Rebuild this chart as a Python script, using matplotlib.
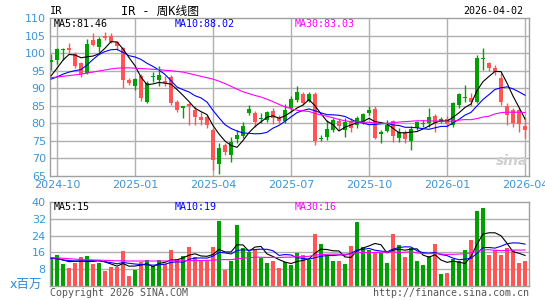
import matplotlib

matplotlib.use('Agg')

import matplotlib.pyplot as plt
import numpy as np
import pandas as pd

# weekly bars, IR
weeks = pd.date_range('2024-09-27', periods=80, freq='7D')

open_ = [97.6, 97.9, 100.9, 101.4, 99.8, 97.1, 94.3, 103.8, 101.8, 104.9,
         104.8, 103.2, 101.4, 92.3, 90.7, 93.6, 86.0, 93.1, 92.2, 92.0,
         93.3, 86.0, 84.5, 85.5, 83.8, 81.9, 81.9, 78.1, 68.3, 73.8,
         71.0, 75.5, 76.5, 82.9, 82.9, 81.3, 81.0, 83.6, 81.4, 80.7,
         84.3, 86.7, 88.4, 86.4, 88.4, 75.4, 76.2, 78.1, 80.7, 78.1,
         80.7, 79.5, 80.5, 82.9, 84.1, 77.1, 77.8, 80.7, 75.9, 77.6,
         75.0, 78.8, 79.8, 80.0, 82.2, 80.5, 81.3, 79.5, 85.2, 87.2,
         87.3, 86.0, 98.3, 97.1, 95.7, 93.0, 84.8, 83.8, 83.8, 79.3]
high = [99.8, 101.4, 101.4, 102.8, 100.4, 97.6, 104.0, 105.7, 104.6, 105.9,
        105.7, 103.5, 101.8, 92.8, 93.0, 94.0, 92.1, 94.7, 96.2, 93.5,
        93.8, 86.7, 85.0, 85.8, 85.0, 83.3, 82.4, 78.6, 74.3, 74.3,
        76.1, 78.0, 80.3, 85.2, 83.4, 82.9, 83.6, 84.3, 82.5, 85.4,
        87.7, 90.5, 88.9, 88.9, 88.9, 76.7, 81.0, 81.4, 81.4, 81.4,
        81.4, 82.2, 82.9, 84.8, 84.8, 78.1, 81.0, 81.0, 78.6, 78.1,
        79.3, 80.7, 81.0, 84.3, 82.6, 81.9, 82.0, 86.0, 88.6, 90.9,
        88.6, 99.5, 101.4, 97.6, 96.5, 94.2, 85.7, 84.3, 84.5, 81.5]
low = [95.2, 96.8, 98.1, 100.1, 95.9, 93.2, 94.0, 101.9, 100.4, 103.8,
       103.0, 101.0, 90.2, 90.9, 89.5, 86.4, 85.7, 91.9, 90.5, 90.5,
       85.2, 83.2, 81.4, 79.6, 79.6, 79.6, 78.8, 66.7, 65.5, 71.0,
       68.9, 74.4, 75.7, 82.4, 79.0, 80.0, 80.3, 79.8, 80.1, 80.1,
       83.3, 86.0, 85.2, 86.0, 73.7, 75.0, 75.2, 77.6, 78.1, 76.2,
       77.6, 78.6, 79.9, 82.4, 75.5, 74.3, 77.4, 74.8, 74.8, 74.3,
       72.5, 78.1, 79.0, 79.0, 77.6, 80.0, 79.0, 79.0, 84.3, 86.2,
       84.8, 85.7, 95.2, 94.8, 93.8, 85.2, 79.5, 79.0, 77.6, 75.8]
close = [98.0, 101.2, 101.2, 100.8, 96.2, 94.0, 102.5, 102.3, 104.0, 104.2,
         103.3, 102.1, 92.4, 91.6, 92.6, 87.1, 91.4, 93.4, 93.8, 91.5,
         85.7, 83.8, 85.0, 85.0, 81.9, 81.0, 79.5, 69.5, 72.9, 71.9,
         74.8, 76.7, 79.3, 84.1, 80.5, 81.5, 83.2, 81.4, 80.7, 83.8,
         87.0, 88.9, 85.7, 88.4, 75.0, 75.6, 78.3, 80.9, 79.3, 80.5,
         78.6, 81.6, 82.6, 83.8, 75.8, 77.3, 79.5, 76.5, 77.6, 75.5,
         78.4, 80.3, 80.2, 81.9, 80.0, 81.3, 79.7, 85.7, 88.3, 87.6,
         86.2, 98.7, 98.6, 95.7, 94.7, 86.0, 82.4, 80.0, 79.7, 78.1]
# volume, millions
volume = [14.0, 14.8, 10.5, 8.4, 11.1, 14.0, 14.3, 10.5, 11.1, 7.3,
          9.2, 9.2, 16.7, 4.8, 7.6, 11.6, 12.4, 9.5, 12.4, 10.5,
          17.1, 12.7, 14.3, 18.6, 14.0, 11.9, 11.9, 18.6, 31.0, 7.6,
          11.9, 29.0, 18.3, 16.0, 17.5, 13.5, 11.1, 12.1, 8.7, 11.6,
          10.0, 15.9, 14.8, 12.4, 24.8, 20.0, 14.8, 11.9, 11.9, 10.5,
          19.0, 30.5, 18.4, 17.1, 16.3, 15.9, 11.1, 24.8, 19.5, 14.0,
          18.3, 11.9, 10.0, 14.3, 20.0, 5.7, 6.3, 12.7, 11.9, 17.1,
          21.9, 35.9, 37.0, 14.8, 17.1, 14.8, 18.0, 17.0, 11.0, 12.0]

# MA values at the left edge (their windows start before the chart)
ma5_head = [93.5, 95.7, 98.0, 99.6]
ma10_head = [92.6, 93.2, 94.0, 94.6, 95.0, 95.3, 96.6, 98.2, 99.6]
ma30_head = [93.0, 93.2, 93.4, 93.6, 93.8, 94.0, 94.3, 94.6, 94.9, 95.2,
             95.5, 95.7, 95.8, 95.8, 95.7, 95.6, 95.5, 95.4, 95.3, 95.1,
             95.0, 94.8, 94.6, 94.2, 93.8, 93.4, 93.0, 92.6, 92.0]
vma5_head = [13.2, 13.2, 12.4, 11.6]
vma10_head = [13.2, 12.9, 12.4, 12.1, 11.9, 11.9, 12.1, 12.1, 11.9]
vma30_head = [13.5, 13.4, 13.2, 13.0, 12.8, 12.6, 12.5, 12.4, 12.3, 12.2,
              12.1, 12.0, 12.0, 11.9, 11.9, 11.9, 11.9, 11.9, 11.9, 11.9,
              12.0, 12.0, 12.0, 12.1, 12.1, 12.1, 12.2, 12.3, 12.5]

price_labels = ['MA5:81.46', 'MA10:88.02', 'MA30:83.03']
vol_labels = ['MA5:15', 'MA10:19', 'MA30:16']

UP = '#00a000'
DOWN = '#ff5555'
GRID = '#b0b0b0'
TICK = '#3b95d9'
MA_COLORS = ['black', '#0000ff', '#ff00ff']

W, H = 545, 300


def moving_average(values, n, head):
	out = pd.Series(values).rolling(n).mean().to_numpy()
	out[:n - 1] = head
	return out


def px_box(x0, y0, x1, y1):
	return [x0 / W, 1 - y1 / H, (x1 - x0) / W, (y1 - y0) / H]


x = np.arange(len(close))
o = np.array(open_)
c = np.array(close)
colors = [UP if cc >= oo else DOWN for oo, cc in zip(o, c)]

quarter_idx = [i for i in range(1, len(weeks))
               if weeks[i].month != weeks[i - 1].month and weeks[i].month in (1, 4, 7, 10)]
quarter_lab = [weeks[i].strftime('%Y-%m') for i in quarter_idx]

fig = plt.figure(figsize=(W / 100, H / 100), dpi=100)
ax = fig.add_axes(px_box(50, 18, 529, 176))
axv = fig.add_axes(px_box(50, 202, 529, 286))

xlim = (-1 / 6, len(close) - 1 + 4 / 6)

# price panel
for xi in quarter_idx:
	ax.axvline(xi, color=GRID, lw=1, zorder=0)
for yv in range(70, 110, 5):
	ax.axhline(yv, color=GRID, lw=1, zorder=0)
ax.vlines(x, low, high, colors=colors, lw=1, zorder=2)
body = np.maximum(np.abs(c - o), 0.3)
ax.bar(x, body, bottom=np.minimum(o, c), width=0.68, color=colors, lw=0, zorder=3)
for n, head, col in zip([5, 10, 30], [ma5_head, ma10_head, ma30_head], MA_COLORS):
	ax.plot(x, moving_average(close, n, head), color=col, lw=0.8, zorder=4)
ax.set_xlim(*xlim)
ax.set_ylim(65, 110)
ax.set_yticks(range(65, 111, 5))
ax.set_xticks(quarter_idx)
ax.set_xticklabels(quarter_lab)

# volume panel
for yv in [8, 16, 24, 32]:
	axv.axhline(yv, color=GRID, lw=1, zorder=0)
axv.bar(x, volume, width=0.68, color=colors, lw=0, zorder=2)
for n, head, col in zip([5, 10, 30], [vma5_head, vma10_head, vma30_head], MA_COLORS):
	axv.plot(x, moving_average(volume, n, head), color=col, lw=0.8, zorder=4)
axv.set_xlim(*xlim)
axv.set_ylim(0, 40)
axv.set_yticks([8, 16, 24, 32, 40])
axv.set_xticks([])

for a in (ax, axv):
	for s in a.spines.values():
		s.set_color('#a0a0a0')
		s.set_linewidth(1)
	a.tick_params(length=0, labelsize=8, labelcolor=TICK, pad=3)
	for t in a.get_yticklabels() + a.get_xticklabels():
		t.set_family('DejaVu Sans')

mono = 'DejaVu Sans Mono'
for lab, col, px in zip(price_labels, MA_COLORS, [54, 175, 295]):
	fig.text(px / W, 1 - 24 / H, lab, color=col, family=mono, fontsize=7.2, va='center')
for lab, col, px in zip(vol_labels, MA_COLORS, [54, 175, 295]):
	fig.text(px / W, 1 - 207 / H, lab, color=col, family=mono, fontsize=7.2, va='center')

fig.text(50 / W, 1 - 11 / H, 'IR', family=mono, fontsize=7.5, va='center')
fig.text(160 / W, 1 - 11 / H, 'IR - 周K线图', family=[mono, 'Noto Sans CJK SC'],
         fontsize=8.5, va='center', ha='center')
fig.text(523 / W, 1 - 11 / H, '2026-04-02', family=mono, fontsize=7.2, va='center', ha='right')
fig.text(10 / W, 1 - 284 / H, 'x百万', family=['DejaVu Sans', 'Noto Sans CJK SC'],
         fontsize=9, color='#2a8bd8', va='center')
fig.text(50 / W, 1 - 293 / H, 'Copyright 2026 SINA.COM', family=mono, fontsize=7.2,
         color='#555555', va='center')
fig.text(529 / W, 1 - 293 / H, 'http://finance.sina.com.cn', family=mono, fontsize=7.2,
         color='#555555', va='center', ha='right')
fig.text(512 / W, 1 - 161 / H, 'sina', family='DejaVu Sans', fontsize=10, style='italic',
         weight='bold', color='#cfcfcf', va='center', ha='center')

fig.savefig('out.png', dpi=100)
